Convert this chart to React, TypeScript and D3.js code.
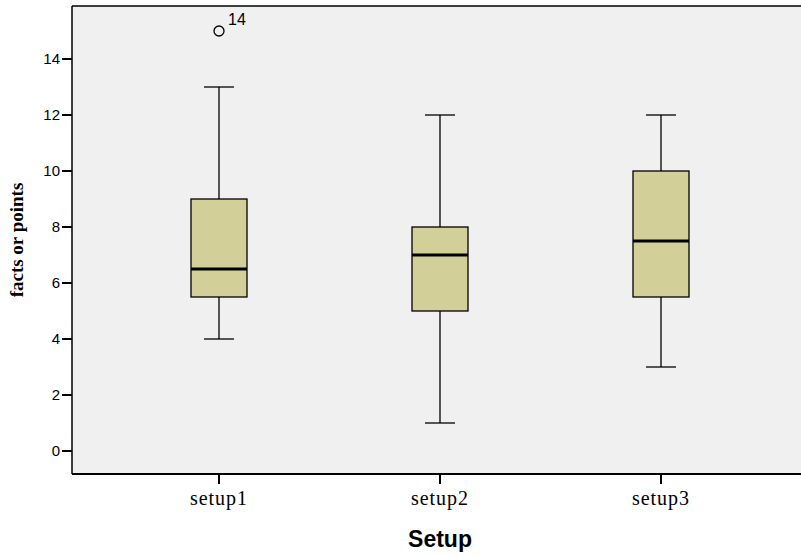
import React from "react";
import * as d3 from "d3";

const categories = ["setup1", "setup2", "setup3"];
const mins = [4, 1, 3];
const q1s = [5.5, 5, 5.5];
const medians = [6.5, 7, 7.5];
const q3s = [9, 8, 10];
const maxs = [13, 12, 12];
const outlierValues = [15];
const outlierCats = ["setup1"];
const outlierLabels = ["14"];
const yTicks = [0, 2, 4, 6, 8, 10, 12, 14];

export default function App() {
  const W = 801, H = 556;
  const left = 72, top = 6, bottom = 474;
  const y = d3.scaleLinear().domain([0, 14]).range([451, 59]);
  const x = d3.scalePoint<string>().domain(categories).range([219, 661]);
  const boxW = 56, capW = 30;
  const fill = "#D3CF99";
  return (
    <svg width={W} height={H} style={{ position: "absolute", left: 0, top: 0 }}>
      <rect x={0} y={0} width={W} height={H} fill="#fff" />
      <rect x={left} y={top} width={W - left} height={bottom - top} fill="#F0F0F0" />
      <line x1={left} x2={W} y1={top} y2={top} stroke="#000" strokeWidth={1.5} />
      <line x1={left} x2={W} y1={bottom} y2={bottom} stroke="#000" strokeWidth={2} />
      <line x1={left} x2={left} y1={top} y2={bottom} stroke="#000" strokeWidth={1.5} />
      {yTicks.map((t) => (
        <g key={t}>
          <line x1={left - 10} x2={left} y1={y(t)} y2={y(t)} stroke="#000" strokeWidth={2} />
          <text x={left - 12} y={y(t)} dy="0.36em" textAnchor="end" fontFamily="Liberation Sans, Arial, sans-serif" fontSize={15} fill="#000">{t}</text>
        </g>
      ))}
      {categories.map((c, i) => {
        const cx = x(c)!;
        return (
          <g key={c}>
            <line x1={cx} x2={cx} y1={bottom} y2={bottom + 10} stroke="#000" strokeWidth={2} />
            <text x={cx} y={bottom + 31} textAnchor="middle" fontFamily="Liberation Serif, Times New Roman, serif" fontSize={20} letterSpacing={1} fill="#000">{c}</text>
            <line x1={cx} x2={cx} y1={y(maxs[i])} y2={y(q3s[i])} stroke="#000" strokeWidth={1.3} />
            <line x1={cx} x2={cx} y1={y(q1s[i])} y2={y(mins[i])} stroke="#000" strokeWidth={1.3} />
            <line x1={cx - capW / 2} x2={cx + capW / 2} y1={y(maxs[i])} y2={y(maxs[i])} stroke="#000" strokeWidth={1.3} />
            <line x1={cx - capW / 2} x2={cx + capW / 2} y1={y(mins[i])} y2={y(mins[i])} stroke="#000" strokeWidth={1.3} />
            <rect x={cx - boxW / 2} y={y(q3s[i])} width={boxW} height={y(q1s[i]) - y(q3s[i])} fill={fill} stroke="#000" strokeWidth={1.3} />
            <line x1={cx - boxW / 2} x2={cx + boxW / 2} y1={y(medians[i])} y2={y(medians[i])} stroke="#000" strokeWidth={3} />
          </g>
        );
      })}
      {outlierValues.map((v, i) => {
        const cx = x(outlierCats[i])!;
        return (
          <g key={i}>
            <circle cx={cx} cy={y(v)} r={5} fill="none" stroke="#000" strokeWidth={1.3} />
            <text x={cx + 9} y={y(v) - 6} fontFamily="Liberation Sans, Arial, sans-serif" fontSize={16} fill="#000">{outlierLabels[i]}</text>
          </g>
        );
      })}
      <text transform={`translate(23,${(top + bottom) / 2}) rotate(-90)`} textAnchor="middle" fontFamily="Liberation Serif, Times New Roman, serif" fontWeight="bold" fontSize={19} fill="#000">facts or points</text>
      <text x={440} y={547} textAnchor="middle" fontFamily="Liberation Sans, Arial, sans-serif" fontWeight="bold" fontSize={23} fill="#000">Setup</text>
    </svg>
  );
}
